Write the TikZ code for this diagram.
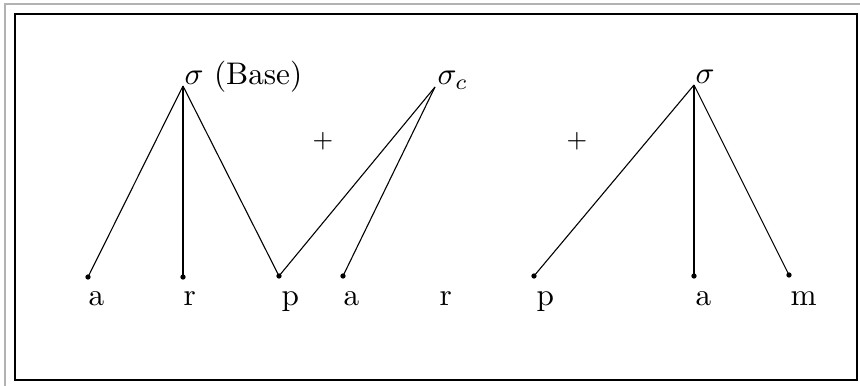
\documentclass[tikz,border=0pt]{standalone}
\usepackage{amsmath,amssymb}
\usepackage{xcolor}
\usepackage{tikz}

\begin{document}
\begin{tikzpicture}[x=0.32pt,y=-0.32pt,
  dot/.style={circle,fill,inner sep=0pt,minimum size=1.7pt},
  seg/.style={inner sep=0pt,anchor=base west},
  root/.style={inner sep=0pt,anchor=base west},
  plus/.style={inner sep=0pt,font=\footnotesize},
  branch/.style={line width=0.35pt},
  frame/.style={line width=0.55pt}]
\useasboundingbox (0,0) rectangle (860,386);
% page frame (double rule of the scan)
\draw[gray!60,line width=0.4pt] (5,386) -- (5,4) -- (860,4);
\draw[frame] (15,14) rectangle (857,380);
% apexes
\coordinate (base) at (183,86);
\coordinate (cont) at (435,87);
\coordinate (syl)  at (694,85);
\node[root] (baselbl) at (184,85) {$\sigma$ (Base)};
\node[root] (contlbl) at (437,85) {$\sigma_c$};
\node[root] (syllbl)  at (695,84) {$\sigma$};
% leaves
\node[dot] (a1) at (88,277)  {};
\node[dot] (r1) at (183,277) {};
\node[dot] (p1) at (279,276) {};
\node[dot] (a2) at (343,276) {};
\node[dot] (p2) at (534,276) {};
\node[dot] (a3) at (694,276) {};
\node[dot] (m1) at (789,275) {};
\node[seg] (la1) at (88,306)  {a};
\node[seg] (lr1) at (183,306) {r};
\node[seg] (lp1) at (281,306) {p};
\node[seg] (la2) at (343,306) {a};
\node[seg] (lr2) at (439,306) {r};
\node[seg] (lp2) at (536,306) {p};
\node[seg] (la3) at (695,306) {a};
\node[seg] (lm1) at (790,306) {m};
\node[plus] (plus1) at (323,141) {$+$};
\node[plus] (plus2) at (577,141) {$+$};
% branches
\draw[branch] (base) -- (a1.center);
\draw[branch] (base) -- (r1.center);
\draw[branch] (base) -- (p1.center);
\draw[branch] (cont) -- (p1.center);
\draw[branch] (cont) -- (a2.center);
\draw[branch] (syl) -- (p2.center);
\draw[branch] (syl) -- (a3.center);
\draw[branch] (syl) -- (m1.center);
\end{tikzpicture}
\end{document}
